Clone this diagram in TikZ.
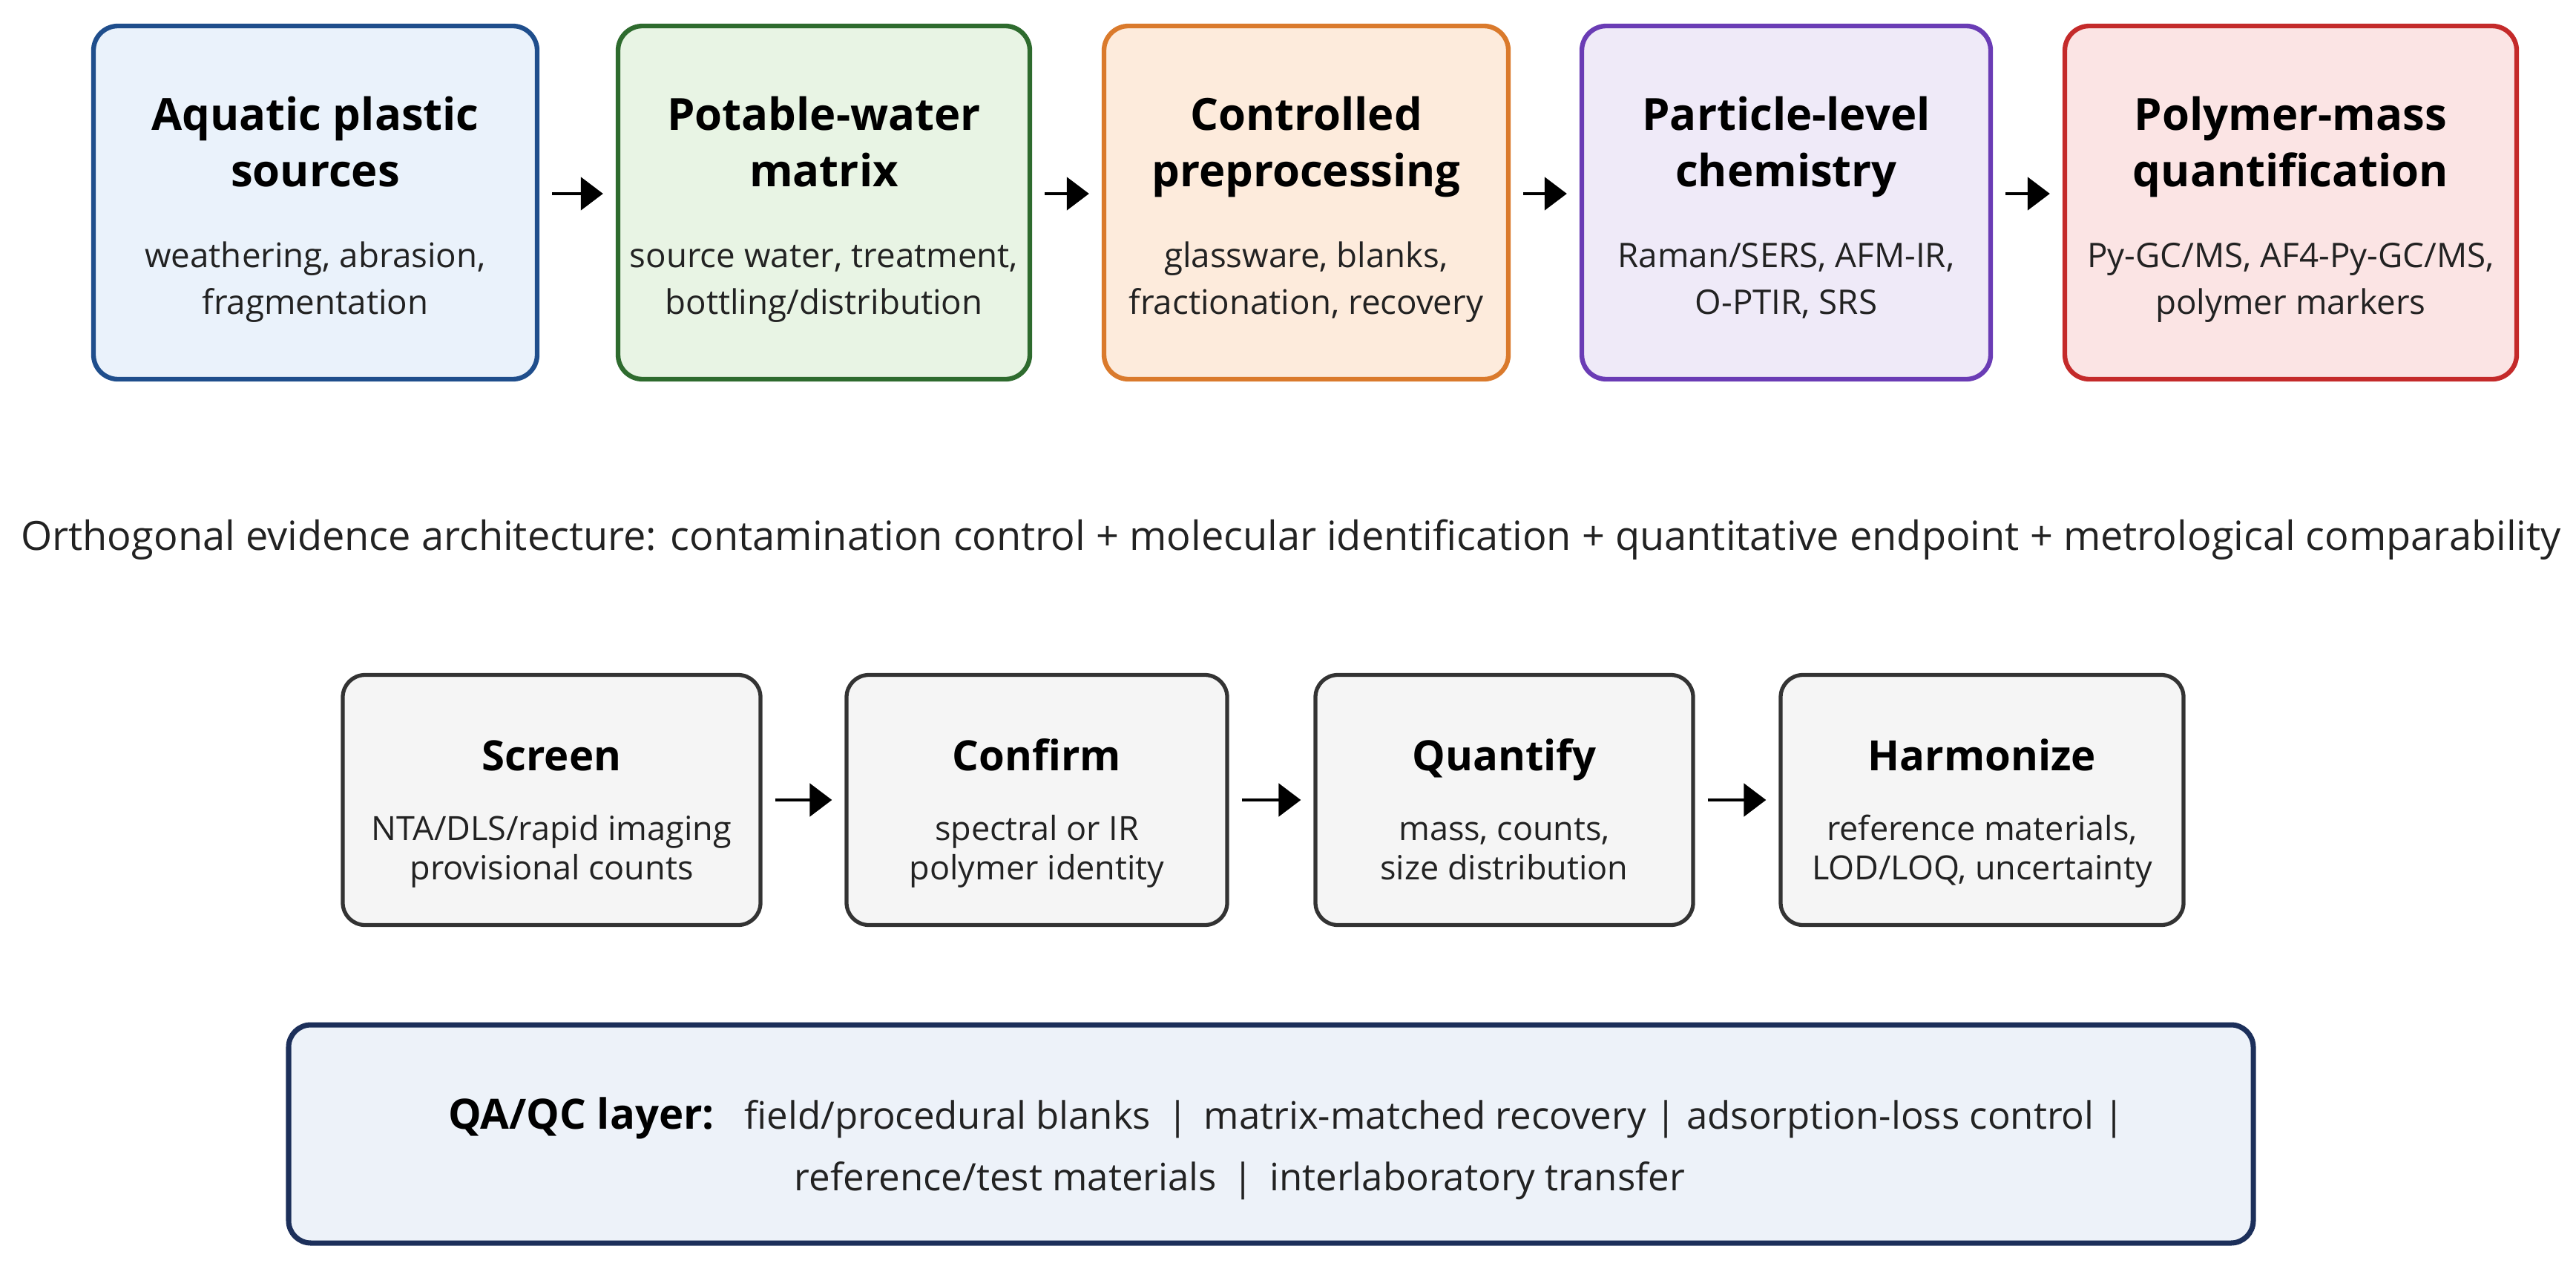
\documentclass[tikz,border=0pt]{standalone}
\usepackage{fontspec}
\setmainfont{Open Sans}
\usepackage{xcolor}
\usetikzlibrary{positioning, arrows.meta}

\definecolor{srcLine}{HTML}{1F4E8C}
\definecolor{srcFill}{HTML}{EAF2FB}
\definecolor{matLine}{HTML}{2E6B2E}
\definecolor{matFill}{HTML}{E8F4E4}
\definecolor{prepLine}{HTML}{DA7A2C}
\definecolor{prepFill}{HTML}{FDEBDC}
\definecolor{chemLine}{HTML}{6A3CB5}
\definecolor{chemFill}{HTML}{EFEAF8}
\definecolor{massLine}{HTML}{C42A2A}
\definecolor{massFill}{HTML}{FBE4E4}
\definecolor{stepLine}{HTML}{333333}
\definecolor{stepFill}{HTML}{F5F5F5}
\definecolor{qaLine}{HTML}{1C2F5A}
\definecolor{qaFill}{HTML}{EDF2F9}
\definecolor{textGray}{HTML}{222222}

\begin{document}
\begin{tikzpicture}[
	stage/.style={rectangle, draw, rounded corners=0.33cm, line width=1.8pt, minimum height=4.76cm},
	stepbox/.style={rectangle, draw=stepLine, fill=stepFill, rounded corners=0.3cm, line width=1.5pt, minimum height=3.37cm},
	qabox/.style={rectangle, draw=qaLine, fill=qaFill, rounded corners=0.3cm, line width=2pt, minimum width=26.48cm, minimum height=2.94cm},
	stagetitle/.style={anchor=north, align=center, text=black, font=\fontsize{17}{21.6}\selectfont\bfseries},
	stagenote/.style={anchor=north, align=center, text=textGray, font=\fontsize{13}{18}\selectfont},
	steptitle/.style={anchor=base, text=black, font=\fontsize{16}{19}\selectfont\bfseries},
	stepnote/.style={anchor=north, align=center, text=textGray, font=\fontsize{12.8}{15}\selectfont},
	flow/.style={-{Triangle[length=0.3cm,width=0.44cm]}, line width=1.4pt, shorten <=0.17cm, shorten >=0.17cm}
	]
	\useasboundingbox (0,0) rectangle (34.72,-17.06);
	
	%Stage nodes
	\node [stage, draw=srcLine, fill=srcFill, minimum width=5.98cm] (src) at (4.25,-2.73) {};
	\node [stagetitle] (srcT) at ([yshift=1.63cm]src.center) {\strut Aquatic plastic\\sources};
	\node [stagenote] (srcN) at ([yshift=-0.31cm]src.center) {\strut weathering, abrasion,\\fragmentation};
	
	\node [stage, draw=matLine, fill=matFill, minimum width=5.55cm] (mat) at (11.105,-2.73) {};
	\node [stagetitle] (matT) at ([yshift=1.63cm]mat.center) {\strut Potable-water\\matrix};
	\node [stagenote] (matN) at ([yshift=-0.31cm]mat.center) {\strut source water, treatment,\\bottling/distribution};
	
	\node [stage, draw=prepLine, fill=prepFill, minimum width=5.45cm] (prep) at (17.605,-2.73) {};
	\node [stagetitle] (prepT) at ([yshift=1.63cm]prep.center) {\strut Controlled\\preprocessing};
	\node [stagenote] (prepN) at ([yshift=-0.31cm]prep.center) {\strut glassware, blanks,\\fractionation, recovery};
	
	\node [stage, draw=chemLine, fill=chemFill, minimum width=5.51cm] (chem) at (24.075,-2.73) {};
	\node [stagetitle] (chemT) at ([yshift=1.63cm]chem.center) {\strut Particle-level\\chemistry};
	\node [stagenote] (chemN) at ([yshift=-0.31cm]chem.center) {\strut Raman/SERS, AFM-IR,\\O-PTIR, SRS};
	
	\node [stage, draw=massLine, fill=massFill, minimum width=6.09cm] (mass) at (30.875,-2.73) {};
	\node [stagetitle] (massT) at ([yshift=1.63cm]mass.center) {\strut Polymer-mass\\quantification};
	\node [stagenote] (massN) at ([yshift=-0.31cm]mass.center) {\strut Py-GC/MS, AF4-Py-GC/MS,\\polymer markers};
	
	%Architecture line
	\node [text=textGray, font=\fontsize{15.4}{18}\selectfont] (arch) at (17.4,-7.27)
	{Orthogonal evidence architecture: contamination control + molecular identification + quantitative endpoint + metrological comparability};
	
	%Workflow nodes
	\node [stepbox, minimum width=5.63cm] (screen) at (7.435,-10.78) {};
	\node [steptitle] (screenT) at ([yshift=0.4cm]screen.center) {Screen};
	\node [stepnote] (screenN) at ([yshift=-0.05cm]screen.center) {\strut NTA/DLS/rapid imaging\\provisional counts};
	
	\node [stepbox, minimum width=5.13cm] (confirm) at (13.975,-10.78) {};
	\node [steptitle] (confirmT) at ([yshift=0.4cm]confirm.center) {Confirm};
	\node [stepnote] (confirmN) at ([yshift=-0.05cm]confirm.center) {\strut spectral or IR\\polymer identity};
	
	\node [stepbox, minimum width=5.09cm] (quantify) at (20.275,-10.78) {};
	\node [steptitle] (quantifyT) at ([yshift=0.4cm]quantify.center) {Quantify};
	\node [stepnote] (quantifyN) at ([yshift=-0.05cm]quantify.center) {\strut mass, counts,\\size distribution};
	
	\node [stepbox, minimum width=5.43cm] (harmon) at (26.715,-10.78) {};
	\node [steptitle] (harmonT) at ([yshift=0.4cm]harmon.center) {Harmonize};
	\node [stepnote] (harmonN) at ([yshift=-0.05cm]harmon.center) {\strut reference materials,\\LOD/LOQ, uncertainty};
	
	%QA/QC layer
	\node [qabox] (qaqc) at (17.13,-15.28) {};
	\node [align=center, text=textGray, font=\fontsize{14.5}{23.6}\selectfont] (qaqcT) at ([xshift=0.21cm,yshift=-0.2cm]qaqc.center)
	{{\fontsize{16}{23.6}\selectfont\bfseries\color{black}QA/QC layer:}\hspace{0.45em} field/procedural blanks \,|\, matrix-matched recovery | adsorption-loss control |\\reference/test materials \,|\, interlaboratory transfer\hspace*{1.26cm}};
	
	%Links
	\draw [flow] ([yshift=0.12cm]src.east) -- ([yshift=0.12cm]mat.west);
	\draw [flow] ([yshift=0.12cm]mat.east) -- ([yshift=0.12cm]prep.west);
	\draw [flow] ([yshift=0.12cm]prep.east) -- ([yshift=0.12cm]chem.west);
	\draw [flow] ([yshift=0.12cm]chem.east) -- ([yshift=0.12cm]mass.west);
	\draw [flow] (screen) -- (confirm);
	\draw [flow] (confirm) -- (quantify);
	\draw [flow] (quantify) -- (harmon);
	
\end{tikzpicture}
\end{document}
